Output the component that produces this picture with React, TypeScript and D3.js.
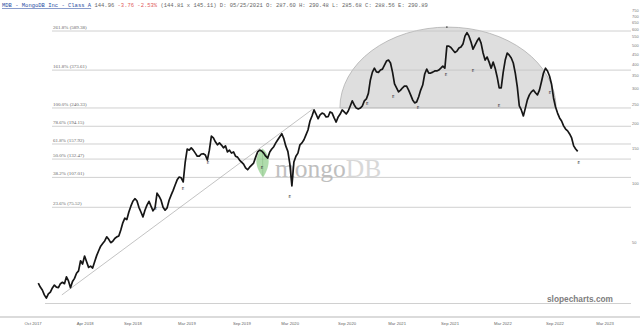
import React from "react";
import * as d3 from "d3";

const W = 640;
const H = 331;

// weekly closes starting at this Friday
const firstWeek = "2017-10-20";
const weeklyClose = [
  31.2, 29.8, 28.8, 27.2, 26.2, 27.5, 28.1, 29.5, 30.5, 29.8,
  29.6, 31.0, 31.5, 31.0, 33.6, 32.0, 29.6, 31.8, 33.0, 35.0,
  36.0, 40.5, 39.0, 42.8, 40.0, 37.5, 38.0, 37.2, 40.0, 43.0,
  45.5, 48.0, 49.5, 51.0, 53.5, 52.0, 50.0, 50.8, 52.5, 53.5,
  54.0, 58.0, 63.0, 66.5, 65.5, 71.5, 76.5, 81.0, 83.5, 81.5,
  75.5, 71.5, 67.5, 73.0, 77.5, 81.0, 76.5, 72.5, 75.0, 89.0,
  86.0, 82.0, 75.5, 73.0, 75.0, 82.0, 87.0, 92.0, 98.0, 104.0,
  107.5, 106.5, 101.5, 128.0, 149.0, 147.0, 151.0, 147.0, 142.0, 137.0,
  137.0, 140.5, 141.0, 139.0, 131.0, 147.0, 173.0, 169.5, 162.0, 156.5,
  160.0, 156.0, 151.0, 154.5, 144.0, 147.0, 142.0, 144.0, 137.0, 135.5,
  131.0, 128.0, 125.0, 119.5, 117.0, 120.5, 123.5, 126.5, 135.5, 144.0,
  147.0, 145.5, 142.0, 137.0, 134.0, 144.0, 149.0, 153.0, 160.0, 166.0,
  172.0, 178.0, 168.0, 154.0, 145.0, 125.0, 97.0, 128.0, 137.0, 142.0,
  156.5, 160.0, 166.0, 175.5, 186.0, 206.5, 219.0, 235.0, 224.0, 212.0,
  221.5, 226.5, 224.0, 216.5, 217.0, 229.5, 226.5, 214.0, 204.0, 216.5,
  224.0, 235.0, 229.5, 224.0, 232.0, 246.0, 261.0, 249.0, 240.0, 237.5,
  240.0, 246.0, 261.0, 267.0, 285.0, 333.0, 365.0, 382.0, 366.0, 364.0,
  374.0, 378.0, 396.0, 415.0, 420.0, 406.0, 365.0, 318.0, 304.0, 290.0,
  296.0, 304.0, 310.5, 310.0, 296.0, 280.0, 264.0, 255.0, 258.0, 274.0,
  296.0, 314.0, 357.0, 378.0, 361.0, 361.0, 365.0, 370.0, 370.0, 374.0,
  382.0, 391.5, 382.0, 494.0, 494.0, 486.0, 472.0, 459.0, 466.0, 483.0,
  489.0, 506.0, 555.0, 578.0, 555.0, 518.0, 477.0, 500.0, 524.0, 543.0,
  512.0, 456.0, 420.0, 435.0, 410.0, 382.0, 410.0, 382.0, 345.0, 304.0,
  304.0, 365.0, 420.0, 456.0, 445.0, 430.0, 406.0, 361.0, 307.0, 246.0,
  235.0, 219.0, 240.0, 264.0, 280.0, 290.0, 296.0, 287.0, 280.0, 296.0,
  326.0, 361.0, 382.0, 370.0, 349.0, 318.0, 270.0, 243.0, 226.5, 214.0,
  206.5, 195.0, 188.0, 184.0, 177.5, 169.5, 154.5, 149.0, 145.0,
];

const fibPct = ["261.8%", "161.8%", "100.0%", "78.6%", "61.8%", "50.0%", "38.2%", "23.6%", "0.0%"];
const fibPrice = [589.38, 373.61, 240.33, 194.15, 157.92, 132.47, 107.01, 75.52, 24.61];
const fibLabelShown = [true, true, true, true, true, true, true, true, false];

const yTicks = [750, 700, 650, 600, 550, 500, 450, 400, 350, 300, 250, 200, 150, 100, 50];

const xTickDates = [
  "2017-10-02", "2018-04-01", "2018-09-14", "2019-03-21", "2019-09-28", "2020-03-14",
  "2020-09-28", "2021-03-21", "2021-09-21", "2022-03-24", "2022-09-21", "2023-03-14",
];
const xTickLabels = [
  "Oct 2017", "Apr 2018", "Sep 2018", "Mar 2019", "Sep 2019", "Mar 2020",
  "Sep 2020", "Mar 2021", "Sep 2021", "Mar 2022", "Sep 2022", "Mar 2023",
];

const earningsDates = [
  "2018-12-03", "2019-03-07", "2019-06-02", "2019-12-07", "2020-03-13", "2020-12-07",
  "2021-03-08", "2021-06-02", "2021-09-07", "2021-12-10", "2022-03-10", "2022-09-04", "2022-12-13",
];
const earningsPrices = [74.9, 94.5, 127, 119.5, 85.2, 252, 274, 243, 353, 374, 246, 289, 128];

const trendDates = ["2018-01-10", "2020-06-01"];
const trendPrices = [27.2, 237.5];

const domeDates = ["2020-09-03", "2022-09-25"];
const domeBasePrice = 240.33;
const domeTopPrice = 617;
const domeApexDate = "2021-09-10";

const titleParts = [
  { t: "MDB - MongoDB Inc - Class A", c: "#2b4ea3", u: true },
  { t: " 144.96 ", c: "#666", u: false },
  { t: "-3.76 -2.53%", c: "#e05a5a", u: false },
  { t: " (144.81 x 145.11) D: 05/25/2021 O: 287.60 H: 290.48 L: 285.68 C: 288.56 E: 290.89", c: "#666", u: false },
];

const parse = d3.timeParse("%Y-%m-%d");

export default function App() {
  const x = d3
    .scaleTime()
    .domain([parse("2017-10-19")!, parse("2023-03-14")!])
    .range([38, 605]);
  const y = d3.scaleLog().domain([24.61, 589.38]).range([303.5, 31]);

  const start = parse(firstWeek)!;
  const series = weeklyClose.map((c, i) => ({ date: d3.timeDay.offset(start, 7 * i), close: c }));
  const line = d3
    .line<{ date: Date; close: number }>()
    .x((d) => x(d.date))
    .y((d) => y(d.close));

  const xl = x(parse(domeDates[0])!);
  const xr = x(parse(domeDates[1])!);
  const yb = y(domeBasePrice);
  const yt = y(domeTopPrice);
  const domePath = `M${xl},${yb} A${(xr - xl) / 2},${yb - yt} 0 0 1 ${xr},${yb} Z`;

  const lineEnd = 631;

  return (
    <svg
      width={W}
      height={H}
      style={{ position: "absolute", left: 0, top: 0, background: "#fff" }}
    >
      <rect x={0} y={0} width={W} height={H} fill="#fff" />
      {/* dome */}
      <path d={domePath} fill="#dedede" stroke="#a8a8a8" strokeWidth={0.7} />
      {/* fib lines */}
      {fibPrice.map((p, i) => (
        <g key={"f" + i}>
          <line
            x1={fibLabelShown[i] ? 52 : 45}
            x2={lineEnd}
            y1={y(p)}
            y2={y(p)}
            stroke="#c4c4c4"
            strokeWidth={0.8}
          />
          {fibLabelShown[i] && (
            <text
              x={53}
              y={y(p) - 2}
              fontFamily="Liberation Serif, serif"
              fontSize={5}
              fill="#666"
            >
              {`${fibPct[i]} (${p.toFixed(2)})`}
            </text>
          )}
        </g>
      ))}
      {/* mongoDB watermark */}
      <g opacity={0.85}>
        <path
          d="M262.5,148.5 C269,154 272,163 263,177.5 C253,164 255.5,155 262.5,148.5 Z"
          fill="#8ccd86"
          opacity={0.8}
        />
        <line x1={262.5} y1={152} x2={262.8} y2={176} stroke="#6aa865" strokeWidth={0.6} opacity={0.7} />
        <text x={275} y={177} fontFamily="Liberation Serif, serif" fontSize={25.5} fill="#b5b5b5">
          mongo<tspan fill="#d2d2d2">DB</tspan>
        </text>
      </g>
      {/* trend line */}
      <line
        x1={x(parse(trendDates[0])!)}
        y1={y(trendPrices[0])}
        x2={x(parse(trendDates[1])!)}
        y2={y(trendPrices[1])}
        stroke="#9a9a9a"
        strokeWidth={0.6}
      />
      {/* price */}
      <path
        d={line(series) || ""}
        fill="none"
        stroke="#161616"
        strokeWidth={1.7}
        strokeLinejoin="round"
      />
      {/* earnings markers */}
      {earningsDates.map((d, i) => (
        <text
          key={"e" + i}
          x={x(parse(d)!)}
          y={y(earningsPrices[i]) + 1.5}
          fontSize={4}
          fontFamily="DejaVu Sans, sans-serif"
          fill="#333"
          textAnchor="middle"
        >
          E
        </text>
      ))}
      <circle cx={x(parse(domeApexDate)!)} cy={yt} r={0.9} fill="#555" />
      {/* right axis */}
      {yTicks.map((v) => (
        <text
          key={"y" + v}
          x={632}
          y={y(v)}
          dy="0.35em"
          fontSize={4}
          fontFamily="Liberation Sans, sans-serif"
          fill="#777"
        >
          {v}
        </text>
      ))}
      {/* watermark site */}
      <text
        x={547}
        y={301.5}
        fontFamily="Liberation Sans, Arial, sans-serif"
        fontWeight="bold"
        fontSize={8.3}
        fill="#7d7d7d"
      >
        slopecharts.com
      </text>
      {/* bottom frame */}
      <line x1={0} x2={W} y1={317} y2={317} stroke="#cfcfcf" strokeWidth={1.6} />
      {xTickDates.map((d, i) => (
        <text
          key={"x" + i}
          x={x(parse(d)!)}
          y={325}
          textAnchor="middle"
          fontSize={4.2}
          fontFamily="Liberation Sans, sans-serif"
          fill="#666"
        >
          {xTickLabels[i]}
        </text>
      ))}
      {/* title */}
      <text x={2} y={7} fontFamily="Liberation Mono, monospace" fontSize={5.5} xmlSpace="preserve">
        {titleParts.map((p, i) => (
          <tspan key={i} fill={p.c} textDecoration={p.u ? "underline" : undefined} style={{ whiteSpace: "pre" }}>
            {p.t}
          </tspan>
        ))}
      </text>
    </svg>
  );
}
